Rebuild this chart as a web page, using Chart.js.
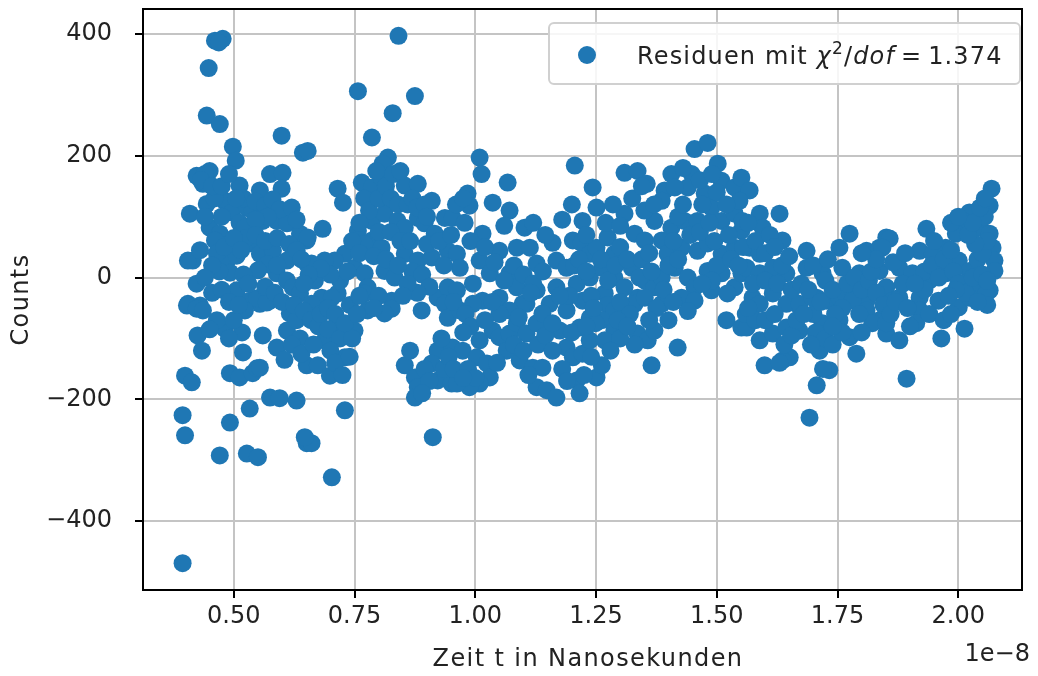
<!DOCTYPE html>
<html>
<head>
<meta charset="utf-8">
<script src="https://cdn.jsdelivr.net/npm/chart.js@4.4.1/dist/chart.umd.min.js"></script>
<style>
  html, body { margin: 0; padding: 0; background: #fff; }
  #wrap { width: 1038px; height: 676px; }
</style>
</head>
<body>
<div id="wrap"><canvas id="myChart" width="1038" height="676"></canvas></div>
<script>
// time in units of 1e-8 s, residual counts
const timeValues = [
  0.461, 0.477, 0.469, 0.448, 0.444, 0.471, 0.599, 0.498, 0.504, 0.643,
  0.423, 0.450, 0.436, 0.440, 0.432, 0.512, 0.554, 0.575, 0.601, 0.599,
  0.409, 0.444, 0.481, 0.496, 0.527, 0.539, 0.450, 0.471, 0.461, 0.512,
  0.523, 0.560, 0.589, 0.610, 0.637, 0.651, 0.533, 0.554, 0.581, 0.415,
  0.405, 0.423, 0.486, 0.492, 0.506, 0.589, 0.610, 0.622, 0.637, 0.506,
  0.405, 0.430, 0.533, 0.554, 0.575, 0.610, 0.651,
  0.403, 0.423, 0.436, 0.548, 0.568, 0.523, 0.616, 0.610, 0.630, 0.637,
  0.481, 0.517, 0.425, 0.434, 0.519, 0.560, 0.589, 0.399, 0.413, 0.492,
  0.512, 0.539, 0.548, 0.554, 0.575, 0.595, 0.630, 0.533, 0.394, 0.399,
  0.492, 0.471, 0.527, 0.550, 0.651, 0.394, 0.651,
  0.841, 0.757, 0.875, 0.829, 0.786, 0.653, 0.819, 0.808, 0.715, 0.726,
  0.765, 0.786, 0.806, 0.854, 0.881, 0.910, 0.937, 0.684, 0.653, 0.757,
  0.786, 0.812, 0.839, 0.854, 0.881, 0.895, 0.916, 0.786, 0.806, 0.730,
  0.709, 0.688, 0.661, 0.854, 0.881, 0.910, 0.943, 0.750, 0.771, 0.812,
  0.833, 0.668, 0.682, 0.715, 0.777, 0.827, 0.922, 0.943,
  0.661, 0.703, 0.771, 0.777, 0.750, 0.715, 0.688, 0.730, 0.674, 0.699,
  0.827, 0.812, 0.889, 0.937, 0.943, 0.854, 0.875, 0.881, 0.875, 0.922,
  0.910, 0.922, 0.951, 0.730, 0.661, 0.647, 0.703, 0.912,
  1.009, 1.013, 1.067, 1.206, 1.243, 0.984, 0.988, 1.036, 1.071, 1.102,
  1.222, 1.251, 0.953, 0.978, 1.015, 1.050, 1.086, 1.113, 1.160, 1.202,
  1.220, 0.962, 0.968, 1.009, 1.030, 1.071, 1.127, 1.168, 1.189, 1.237,
  1.251, 0.995, 0.962, 1.015, 1.086, 1.127, 1.168, 1.210, 1.237, 1.050,
  1.106, 1.154, 1.222,
  0.968, 0.995, 1.036, 1.009, 1.050, 1.071, 0.953, 0.974, 1.003, 1.024,
  1.030, 1.009, 0.988, 0.962, 1.086, 1.106, 1.127, 1.139, 1.098, 1.071,
  1.092, 1.119, 1.139, 1.127, 1.148, 1.168, 1.175, 1.189, 1.202, 1.222,
  1.237, 1.216, 1.210, 1.216, 1.251, 1.189, 1.237,
  1.454, 1.481, 1.502, 1.309, 1.336, 1.355, 1.406, 1.448, 1.440, 1.309,
  1.392, 1.413, 1.386, 1.475, 1.510, 1.537, 1.551, 1.371, 1.406, 1.433,
  1.460, 1.489, 1.510, 1.537, 1.551, 1.274, 1.288, 1.330, 1.351, 1.386,
  1.398, 1.427, 1.460, 1.481, 1.510, 1.537, 1.262, 1.288, 1.324, 1.351,
  1.371, 1.386, 1.413, 1.440, 1.454, 1.481, 1.510, 1.537, 1.551, 1.427,
  1.454, 1.489, 1.522, 1.336, 1.268, 1.309,
  1.275, 1.288, 1.330, 1.351, 1.386, 1.262, 1.288, 1.268, 1.249, 1.336,
  1.357, 1.371, 1.419, 1.365, 1.262, 1.520, 1.551,
  1.568, 1.630, 1.636, 1.589, 1.595, 1.547, 1.553, 1.686, 1.775, 1.754,
  1.810, 1.837, 1.851, 1.568, 1.589, 1.562, 1.589, 1.616, 1.644, 1.686,
  1.719, 1.760, 1.795, 1.837, 1.574, 1.616, 1.665, 1.707, 1.748, 1.775,
  1.810, 1.851,
  1.589, 1.644, 1.671, 1.698, 1.727, 1.754, 1.781, 1.810, 1.837, 1.562,
  1.589, 1.616, 1.644, 1.671, 1.599, 1.651, 1.636, 1.713, 1.733, 1.707,
  1.692, 1.789, 1.775, 1.719, 1.754, 1.822, 1.851,
  2.069, 2.065, 2.023, 2.009, 1.934, 1.858, 1.843, 1.995, 2.044, 2.065,
  2.071, 2.075, 2.075, 1.920, 1.947, 1.974, 2.001, 2.023, 1.878, 1.905,
  1.940, 1.974, 2.009, 2.044, 2.065, 1.851, 1.864, 1.920, 1.959, 2.001,
  1.878, 1.920, 2.023, 2.058, 1.851, 1.878, 1.913, 1.965, 2.013, 1.893
];
const residualValues = [
  389, 392, 386, 344, 266, 252, 233, 215, 192, 205,
  167, 175, 154, 170, 160, 151, 143, 170, 172, 146,
  105, 121, 126, 107, 115, 110, 82, 72, 61, 90,
  82, 93, 93, 89, 72, 61, 56, 39, 44, 28,
  28, -10, 28, 8, 36, 7, -5, -16, -26, -21,
  -43, -46, -38, -43, -38, 28, 23,
  -46, -51, -54, -34, -41, -54, -59, -87, -70, -100,
  -84, -90, -95, -120, -123, -95, -115, -161, -172, -157,
  -164, -157, -149, -148, -197, -198, -202, -215, -226, -259,
  -238, -292, -289, -295, -272, -469, -144,
  397, 306, 298, 270, 230, 208, 197, 187, 146, 123,
  156, 148, 164, 151, 154, 126, 98, 80, 66, 77,
  93, 105, 93, 82, 98, 89, 72, 61, 49, 39,
  28, 28, 23, 39, 28, 33, 44, 16, 7, 11,
  0, -5, -33, -26, -16, -38, -33, -16,
  -43, -33, -26, -54, -87, -75, -103, -131, -144, -161,
  -51, -59, -54, -43, -66, -144, -164, -180, -197, -120,
  -141, -169, -174, -218, -272, -262, -328, -262,
  197, 170, 156, 184, 148, 138, 118, 123, 110, 82,
  93, 115, 98, 90, 72, 44, 49, 49, 57, 61,
  57, 39, 16, 28, 7, 7, 23, 28, 16, 39,
  49, -10, -21, -38, -16, -21, -16, -10, 0, -33,
  -43, -43, -38,
  -54, -43, -87, -103, -98, -92, -115, -120, -131, -141,
  -164, -174, -180, -174, -75, -92, -75, -59, -43, -54,
  -136, -148, -148, -180, -185, -197, -87, -115, -131, -125,
  -103, -82, -169, -190, -164, -54, -66,
  211, 221, 187, 172, 175, 154, 170, 170, 148, 105,
  143, 148, 126, 138, 159, 148, 164, 93, 82, 93,
  93, 115, 93, 105, 77, 66, 39, 72, 61, 61,
  39, 49, 44, 56, 39, 49, 16, 0, 16, -5,
  -16, 0, 16, 0, -16, 11, 7, -16, 7, -33,
  -38, -21, -26, -33, -26, -16,
  -45, -54, -43, -33, -43, -70, -87, -103, -75, -92,
  -103, -87, -115, -144, -144, -70, -82,
  143, 105, 61, 105, 82, 126, 93, 44, 72, 49,
  44, 49, 66, 49, 39, 16, 7, 16, 7, 16,
  7, 16, 7, 11, -33, -26, -43, -33, -43, -33,
  -38, -33,
  -43, -43, -43, -33, -38, -33, -38, -54, -70, -82,
  -103, -92, -82, -87, -144, -131, -136, -120, -152, -177,
  -230, -125, -98, -75, -70, -75, -92,
  146, 118, 107, 93, 80, 64, 49, 72, 82, 72,
  49, 28, 11, 44, 39, 49, 28, 11, 16, 7,
  -5, 7, -10, -16, -21, -16, -38, -33, -38, -49,
  -33, -54, -33, -26, -75, -103, -75, -100, -84, -166
];

// points inside the dense cores of the cloud
const coreTime = [
  0.520, 0.545, 0.565, 0.580, 0.595, 0.620, 0.630, 0.570, 0.545, 0.525,
  0.545, 0.565, 0.590, 0.615, 0.630, 0.640, 0.570, 0.590, 0.550, 0.520,
  0.530, 0.565, 0.585, 0.600, 0.625, 0.645, 0.660, 0.675, 0.620, 0.640,
  0.605, 0.665, 0.680, 0.695, 0.710, 0.695, 0.720, 0.700, 0.710, 0.725,
  0.740, 0.745, 0.730, 0.740, 0.755, 0.760, 0.720, 0.735, 0.700, 0.680,
  0.655, 0.645,
  0.460, 0.475, 0.465, 0.480, 0.470, 0.455, 0.440, 0.455, 0.475, 0.490,
  0.465, 0.450, 0.490, 0.500, 0.510, 0.500, 0.515, 0.430, 0.440, 0.455,
  0.475, 0.490, 0.505,
  0.770, 0.780, 0.795, 0.800, 0.815, 0.825, 0.840, 0.830, 0.845, 0.860,
  0.870, 0.880, 0.895, 0.900, 0.770, 0.800, 0.825, 0.845, 0.865, 0.870,
  0.890, 0.905, 0.880, 0.860, 0.850, 0.800, 0.790, 0.760, 0.745, 0.760,
  0.790, 0.815, 0.840, 0.900,
  0.865, 0.895, 0.905, 0.890, 0.935, 0.945, 0.930, 0.955,
  0.925, 0.935, 0.950, 0.960, 0.975, 0.990, 0.955, 0.980, 0.990, 0.975,
  0.985, 1.000, 0.975,
  1.020, 1.040, 1.060, 1.080, 1.100, 1.120, 1.050, 1.065, 1.080, 1.100,
  1.110, 1.130, 1.145, 1.160, 1.160, 1.180, 1.190, 1.200, 1.195, 1.205,
  1.215, 1.230, 1.240, 1.245, 1.230, 1.240, 1.225, 1.175, 1.140, 1.115,
  1.090, 1.045, 1.035, 1.020, 1.060, 1.120, 1.145, 1.180, 1.200, 1.230,
  1.260, 1.275, 1.290, 1.300, 1.315, 1.300, 1.320, 1.340, 1.345, 1.360,
  1.365, 1.375, 1.390, 1.400, 1.410, 1.420, 1.430, 1.420, 1.445, 1.465,
  1.470, 1.485, 1.495, 1.500, 1.520, 1.525, 1.500, 1.490, 1.470, 1.440,
  1.400, 1.410, 1.360, 1.330, 1.300, 1.280, 1.295, 1.315, 1.350, 1.370,
  1.325, 1.285, 1.270, 1.300, 1.345, 1.430, 1.465, 1.490,
  1.530, 1.545, 1.555, 1.565, 1.580, 1.600, 1.610, 1.620, 1.575, 1.600,
  1.625, 1.635, 1.650, 1.560, 1.580, 1.600, 1.620, 1.640, 1.655, 1.665,
  1.655, 1.630, 1.565,
  1.675, 1.690, 1.700, 1.715, 1.725, 1.740, 1.760, 1.770, 1.785, 1.800,
  1.815, 1.830, 1.845, 1.860, 1.870, 1.885, 1.895, 1.900, 1.705, 1.725,
  1.740, 1.760, 1.800, 1.795, 1.820, 1.830, 1.800, 1.865, 1.890, 1.700,
  1.730, 1.745, 1.680, 1.695, 1.720, 1.740,
  1.930, 1.945, 1.960, 1.970, 1.985, 1.990, 2.000, 2.015, 2.030, 2.040,
  2.050, 2.055, 2.060, 2.035, 2.020, 2.030, 2.050, 2.060, 1.995, 1.980,
  1.940, 1.930, 1.910, 1.970, 1.985, 2.060, 2.040, 1.950, 1.985, 2.000,
  2.045, 2.055
];
const coreResidual = [
  130, 125, 118, 128, 112, 115, 95, 100, 95, 65,
  70, 60, 65, 55, 45, 30, 22, 20, 12, 5,
  -10, -15, -25, -40, -45, -55, -70, -80, -110, -125,
  -135, -110, -60, -50, -60, -85, -100, -120, -140, -160,
  -130, -100, -75, -45, -60, -30, -5, 10, 5, 15,
  5, -10,
  130, 100, 40, 50, 10, 20, 0, -25, -20, -40,
  -70, -85, -100, -70, -45, 65, 45, 45, 100, 150,
  150, 170, 130,
  130, 110, 175, 130, 150, 130, 120, 170, 175, 120,
  130, 115, 120, 100, 55, 75, 75, 60, 60, 10,
  5, -15, -25, -10, -30, -30, -50, 90, 60, 40,
  35, 30, 20, 55,
  -120, -150, -170, -190, -150, -130, -100, -150,
  60, 20, 70, 120, 130, 60, -40, -60, -80, -90,
  -150, -165, -165,
  50, 25, -5, 20, 5, -10, -60, -120, -110, -120,
  -160, -110, -95, -120, -75, -150, -170, -90, -30, 20,
  30, 10, -30, -50, -80, -130, -160, -30, 10, -25,
  -65, -140, -40, -70, 85, 90, 70, 95, 120, 70,
  30, -5, 20, 50, 30, -40, -60, 0, 30, 40,
  10, -50, -20, 20, 60, 100, 120, 30, 70, 75,
  120, 90, 60, 140, 120, 70, 20, -5, -10, -55,
  -70, -40, -70, -110, -100, -120, -70, -80, 110, 120,
  130, 120, 90, 85, 150, 180, 160, 170,
  30, 20, 50, 90, 60, 40, 70, 50, -10, -5,
  -10, 20, 35, -60, -70, -70, -60, -110, -95, -70,
  -20, -140, -50,
  -10, -20, -60, -40, -5, -20, -50, -10, 0, -20,
  -5, -25, -45, -60, -40, -10, -50, -80, -90, -100,
  -110, -90, -90, -60, 10, 30, 40, 25, 40, 20,
  30, -60, -60, -110, -150, -80,
  10, 20, 0, 30, 45, 10, -10, -25, 0, 30,
  40, 100, 60, 55, 70, 90, 5, -5, -20, -30,
  -60, -20, -10, -70, -60, -45, -40, 60, 90, 100,
  115, 130
];

const xTicks = [0.50, 0.75, 1.00, 1.25, 1.50, 1.75, 2.00];
const yTicks = [-400, -200, 0, 200, 400];

const allTime = timeValues.concat(coreTime);
const allResidual = residualValues.concat(coreResidual);
const points = allTime.map((t, i) => ({ x: t, y: allResidual[i] }));

Chart.defaults.font.family = "'DejaVu Sans', sans-serif";
Chart.defaults.color = '#222';

const blue = '#1f77b4';
const textFont = '24px "DejaVu Sans"';

// axes frame on top of the markers
const framePlugin = {
    id: 'frame',
    afterDatasetsDraw(chart) {
        const { ctx, chartArea: a } = chart;
        ctx.save();
        ctx.strokeStyle = '#000';
        ctx.lineWidth = 2;
        ctx.strokeRect(a.left, a.top, a.right - a.left, a.bottom - a.top);
        ctx.restore();
    }
};

// legend with mathtext-like label, axis titles and the "1e-8" offset text
const extrasPlugin = {
    id: 'extras',
    afterDraw(chart) {
        const { ctx, chartArea: a } = chart;
        ctx.save();
        ctx.beginPath();
        ctx.roundRect(549, 23, 471, 61, 5);
        ctx.fillStyle = 'rgba(255,255,255,0.85)';
        ctx.fill();
        ctx.strokeStyle = '#d0d0d0';
        ctx.lineWidth = 2;
        ctx.stroke();

        ctx.beginPath();
        ctx.arc(587, 55, 9, 0, Math.PI * 2);
        ctx.fillStyle = blue;
        ctx.fill();

        ctx.fillStyle = '#222';
        ctx.letterSpacing = '1.15px';
        ctx.textBaseline = 'alphabetic';
        ctx.textAlign = 'left';
        let x = 637;
        const base = 64;
        const parts = [
            [textFont, 'Residuen mit ', 0],
            ['italic ' + textFont, '\u03c7', 0],
            ['17px "DejaVu Sans"', '2', -10],
            [textFont, '/', 0],
            ['italic ' + textFont, 'dof', 0],
            [textFont, '\u2009=\u2009', 0],
            [textFont, '1.374', 0]
        ];
        parts.forEach(p => {
            ctx.font = p[0];
            ctx.fillText(p[1], x, base + p[2]);
            x += ctx.measureText(p[1]).width;
        });

        ctx.font = textFont;
        ctx.letterSpacing = '1.4px';
        ctx.textAlign = 'center';
        ctx.textBaseline = 'middle';
        ctx.fillText('Zeit t in Nanosekunden', 588, 660);

        ctx.save();
        ctx.translate(22, (a.top + a.bottom) / 2);
        ctx.rotate(-Math.PI / 2);
        ctx.fillText('Counts', 0, 0);
        ctx.restore();

        ctx.letterSpacing = '0px';
        ctx.textAlign = 'right';
        ctx.textBaseline = 'top';
        ctx.fillText('1e\u22128', 1030, 643);
        ctx.restore();
    }
};

new Chart(document.getElementById('myChart'), {
    type: 'scatter',
    data: {
        datasets: [{
            label: 'Residuen',
            data: points,
            backgroundColor: blue,
            borderWidth: 0,
            pointRadius: 9,
            pointHoverRadius: 9
        }]
    },
    options: {
        responsive: false,
        animation: false,
        devicePixelRatio: 1,
        layout: { padding: { left: 0, right: 16, top: 8, bottom: 0 } },
        plugins: {
            legend: { display: false },
            tooltip: { enabled: false }
        },
        scales: {
            x: {
                type: 'linear',
                min: 0.312,
                max: 2.132,
                afterFit: s => { s.height = 86; s.paddingLeft = 0; s.paddingRight = 0; },
                afterBuildTicks: s => { s.ticks = xTicks.map(v => ({ value: v })); },
                ticks: {
                    font: { size: 24 },
                    color: '#222',
                    padding: 4,
                    maxRotation: 0,
                    callback: v => v.toFixed(2)
                },
                grid: {
                    color: '#c4c4c4',
                    lineWidth: 2,
                    tickColor: '#000',
                    tickWidth: 2,
                    tickLength: 8
                },
                border: { display: false }
            },
            y: {
                min: -513,
                max: 441,
                afterFit: s => { s.width = 143; s.paddingTop = 0; s.paddingBottom = 0; },
                afterBuildTicks: s => { s.ticks = yTicks.map(v => ({ value: v })); },
                ticks: {
                    font: { size: 24 },
                    color: '#222',
                    padding: 23,
                    callback: v => (v < 0 ? '\u2212' : '') + Math.abs(v)
                },
                grid: {
                    color: '#c4c4c4',
                    lineWidth: 2,
                    tickColor: '#000',
                    tickWidth: 2,
                    tickLength: 8
                },
                border: { display: false }
            }
        }
    },
    plugins: [framePlugin, extrasPlugin]
});
</script>
</body>
</html>
